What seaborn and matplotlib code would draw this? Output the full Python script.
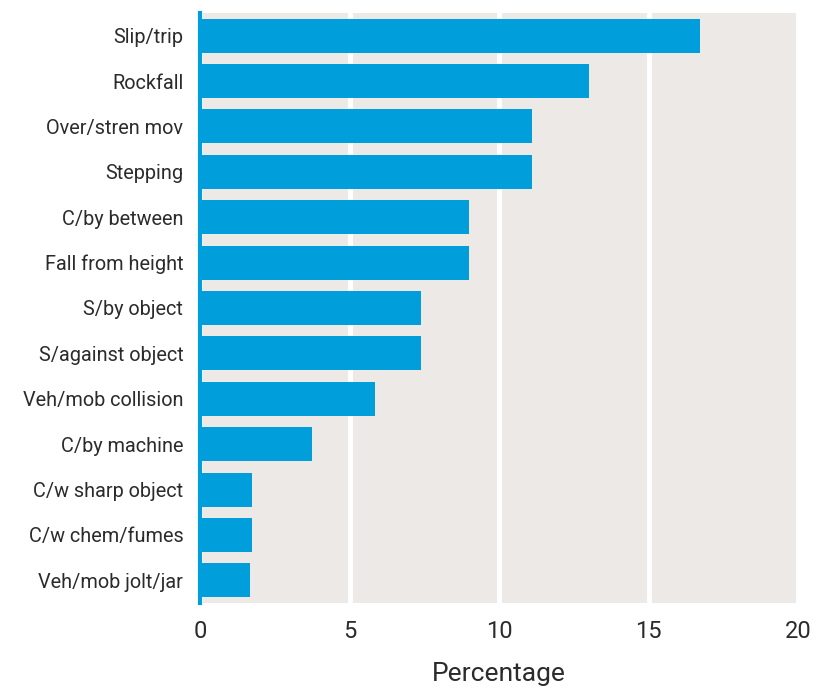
import matplotlib
matplotlib.use("Agg")
import matplotlib.pyplot as plt
import seaborn as sns
import pandas as pd

# causes of injury and their share (%)
causes = ['Slip/trip', 'Rockfall', 'Over/stren mov', 'Stepping', 'C/by between',
          'Fall from height', 'S/by object', 'S/against object', 'Veh/mob collision',
          'C/by machine', 'C/w sharp object', 'C/w chem/fumes', 'Veh/mob jolt/jar']
percent = [16.72, 13.0, 11.1, 11.1, 8.98, 8.98, 7.4, 7.4, 5.86, 3.75, 1.73, 1.73, 1.68]
x_ticks = [0, 5, 10, 15, 20]

df = pd.DataFrame({'cause': causes, 'pct': percent})

sns.set_theme(style='white')
plt.rcParams['font.family'] = ['Roboto', 'DejaVu Sans']

fig = plt.figure(figsize=(8.24, 6.91), dpi=100)
ax = fig.add_axes([200 / 824, 1 - 603 / 691, 598 / 824, 590 / 691])
ax.set_facecolor('#ece9e7')

sns.barplot(data=df, x='pct', y='cause', color='#009edb', saturation=1,
            width=0.75, linewidth=0, ax=ax, zorder=3)

ax.set_xlim(0, 20)
ax.set_xticks(x_ticks)
ax.set_xticklabels([str(t) for t in x_ticks])
ax.set_ylim(len(causes) - 0.5, -0.5)
ax.xaxis.grid(True, color='white', linewidth=3.5, zorder=1)
ax.set_axisbelow(True)

for s in ['top', 'right', 'bottom']:
    ax.spines[s].set_visible(False)
ax.spines['left'].set_color('#009edb')
ax.spines['left'].set_linewidth(3)
ax.spines['left'].set_zorder(4)

ax.tick_params(axis='y', length=0, pad=12, labelsize=14.3, labelcolor='#2b2b2b')
ax.tick_params(axis='x', length=0, pad=12, labelsize=17, labelcolor='#2b2b2b')
ax.set_ylabel('')
ax.set_xlabel('Percentage', fontsize=19, color='#2b2b2b', labelpad=14)

fig.savefig('out.png', dpi=100)
